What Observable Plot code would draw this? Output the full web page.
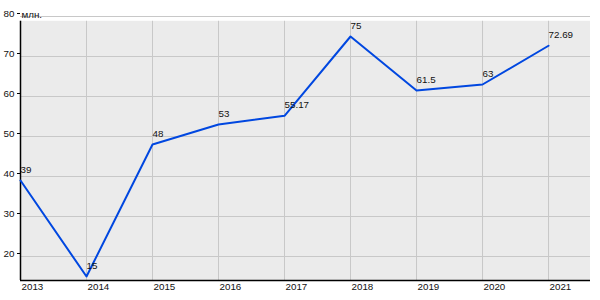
<!DOCTYPE html>
<html>
<head>
<meta charset="utf-8">
<script src="https://cdn.jsdelivr.net/npm/d3@7"></script>
<script src="https://cdn.jsdelivr.net/npm/@observablehq/plot@0.6"></script>
<style>
  html, body { margin: 0; padding: 0; background: #fff; }
  svg { font-family: "Liberation Sans", Arial, sans-serif; }
</style>
</head>
<body>
<div id="chart"></div>
<script>
const years = [2013, 2014, 2015, 2016, 2017, 2018, 2019, 2020, 2021];
const values = [39, 15, 48, 53, 55.17, 75, 61.5, 63, 72.69];
const valueLabels = ["39", "15", "48", "53", "55.17", "75", "61.5", "63", "72.69"];
const yTicks = [20, 30, 40, 50, 60, 70, 80];
const unitLabel = "млн.";

const data = years.map((y, i) => ({year: y, value: values[i], label: valueLabels[i]}));
const xMin = 2013, xMax = 2021.636, yMin = 14, yMax = 80, bgTop = 78.8;

const chart = Plot.plot({
  width: 600,
  height: 300,
  marginLeft: 20,
  marginRight: 10,
  marginTop: 16,
  marginBottom: 20,
  style: {fontFamily: "'Liberation Sans', Arial, sans-serif", fontSize: "9.8px", color: "#111", background: "#fff"},
  x: {type: "linear", domain: [xMin, xMax]},
  y: {domain: [yMin, yMax]},
  marks: [
    Plot.rect([{}], {x1: xMin, x2: xMax, y1: yMin, y2: bgTop, fill: "#ebebeb"}),
    Plot.ruleY(yTicks, {x1: xMin, x2: xMax, stroke: "#c8c8c8", strokeWidth: 1}),
    Plot.ruleX(years, {y1: yMin, y2: bgTop, stroke: "#c8c8c8", strokeWidth: 1}),
    Plot.ruleX([xMin], {y1: yMin, y2: bgTop, stroke: "#000", strokeWidth: 1.5}),
    Plot.ruleY([yMin], {x1: xMin, x2: xMax, stroke: "#000", strokeWidth: 1.5}),
    Plot.axisY({ticks: yTicks, tickSize: 3, tickPadding: 3, label: null, fill: "#111", stroke: "#000", dy: -3}),
    Plot.axisX({ticks: years, tickFormat: d => String(d), tickSize: 0, tickPadding: 3, textAnchor: "start", dx: 1, label: null, fill: "#111"}),
    Plot.text([unitLabel], {x: xMin, y: yMax, text: d => d, textAnchor: "start", lineAnchor: "bottom", dx: 1, dy: 1, fill: "#111"}),
    Plot.line(data, {x: "year", y: "value", stroke: "#0047e0", strokeWidth: 2}),
    Plot.text(data, {x: "year", y: "value", text: "label", textAnchor: "start", dx: 0, dy: -11, fill: "#111"})
  ]
});
document.getElementById("chart").appendChild(chart);
</script>
</body>
</html>
